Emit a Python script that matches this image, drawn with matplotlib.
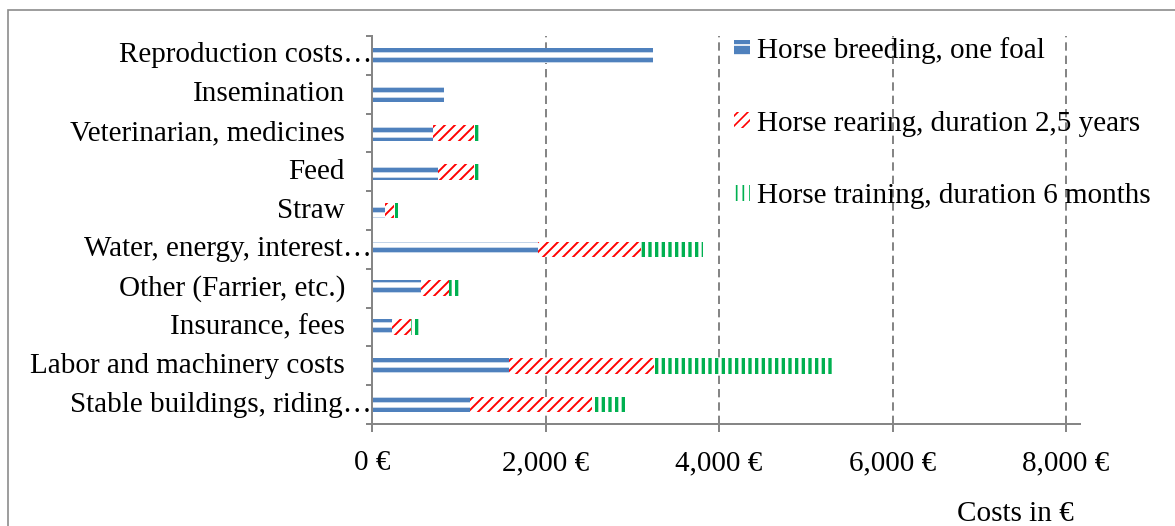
import numpy as np
import matplotlib.pyplot as plt
import matplotlib as mpl
from matplotlib.patches import Rectangle
from matplotlib.ticker import FixedLocator, FuncFormatter
from matplotlib.transforms import blended_transform_factory

categories = ['Reproduction costs…', 'Insemination', 'Veterinarian, medicines', 'Feed',
              'Straw', 'Water, energy, interest…', 'Other (Farrier, etc.)',
              'Insurance, fees', 'Labor and machinery costs', 'Stable buildings, riding…']
breeding = [3240, 827, 703, 757, 154, 1911, 565, 231, 1580, 1127]
rearing = [0, 0, 473, 419, 103, 1192, 319, 219, 1665, 1414]
training = [0, 0, 85, 85, 39, 711, 119, 115, 2068, 415]
series_names = ['Horse breeding, one foal',
                'Horse rearing, duration 2,5 years',
                'Horse training, duration 6 months']
x_ticks = [0, 2000, 4000, 6000, 8000]

plt.rcParams['font.family'] = ['Liberation Serif', 'DejaVu Serif']
plt.rcParams['lines.scale_dashes'] = False
FS = 17.5

DPI = 120
fig = plt.figure(figsize=(1175 / DPI, 526 / DPI), dpi=DPI)
ax = fig.add_axes([372 / 1175, 1 - 424 / 526, 708 / 1175, 388 / 526])

y = np.arange(len(categories))
left2 = np.array(breeding)
left3 = left2 + np.array(rearing)

def hatched_barh(vals, left, hatch, face, color, hlw, label):
    with mpl.rc_context({'hatch.linewidth': hlw}):
        bars = ax.barh(y, vals, left=left, height=0.4, facecolor=face,
                       edgecolor=color, linewidth=0, hatch=hatch, label=label)
    for b in bars:
        if hasattr(b, 'set_hatch_linewidth'):
            b.set_hatch_linewidth(hlw)
    return bars

# blue bars with white horizontal stripes, red diagonal, green vertical
hatched_barh(breeding, 0, '--', '#4f81bd', 'white', 3.2, series_names[0])
hatched_barh(rearing, left2, '////', 'white', '#ff0000', 1.15, series_names[1])
hatched_barh(training, left3, '|||', 'white', '#00b050', 2.0, series_names[2])

ax.set_xlim(0, 8160)
ax.set_ylim(len(categories) - 0.5, -0.5)

# dashed vertical gridlines
for xv in x_ticks[1:]:
    ax.axvline(xv, color='#868686', lw=1.2, ls=(0, (5, 3)), zorder=0)

for s in ['top', 'right']:
    ax.spines[s].set_visible(False)
for s in ['left', 'bottom']:
    ax.spines[s].set_color('#868686')
    ax.spines[s].set_linewidth(1.2)

ax.xaxis.set_major_locator(FixedLocator(x_ticks))
ax.xaxis.set_major_formatter(FuncFormatter(lambda v, p: f'{int(v):,} €'))
ax.tick_params(axis='x', length=4.8, width=1.2, color='#868686', pad=11,
               labelsize=FS)

# category separators as outward ticks, labels drawn as text
ax.yaxis.set_major_locator(FixedLocator(np.arange(-0.5, len(categories), 1.0)))
ax.yaxis.set_major_formatter(FuncFormatter(lambda v, p: ''))
ax.tick_params(axis='y', length=3.6, width=1.2, color='#868686')
trans = blended_transform_factory(ax.transAxes, ax.transData)
for yi, name in zip(y, categories):
    xo = 0.0 if name.endswith('…') else -27 / 708
    ax.text(xo, yi, name, transform=trans, ha='right', va='center', fontsize=FS)

ax.set_xlabel('Costs in €', fontsize=FS)
ax.xaxis.set_label_coords((1015 - 372) / 708, (424 - 514) / 388)
ax.xaxis.label.set_va('center')

ax.legend(loc='upper left', bbox_to_anchor=(734 / 1175, 1 - 37 / 526),
          bbox_transform=fig.transFigure, frameon=False, fontsize=FS,
          handlelength=0.55, handleheight=0.45, handletextpad=0.25,
          labelspacing=1.6, borderpad=0, borderaxespad=0)

# outer frame
fig.patches.append(Rectangle((8 / 1175, -0.1), 1.2, 1 - 10 / 526 + 0.1,
                             transform=fig.transFigure, fill=False,
                             edgecolor='#8c8c8c', lw=1.0))

fig.savefig('out.png', dpi=DPI)
